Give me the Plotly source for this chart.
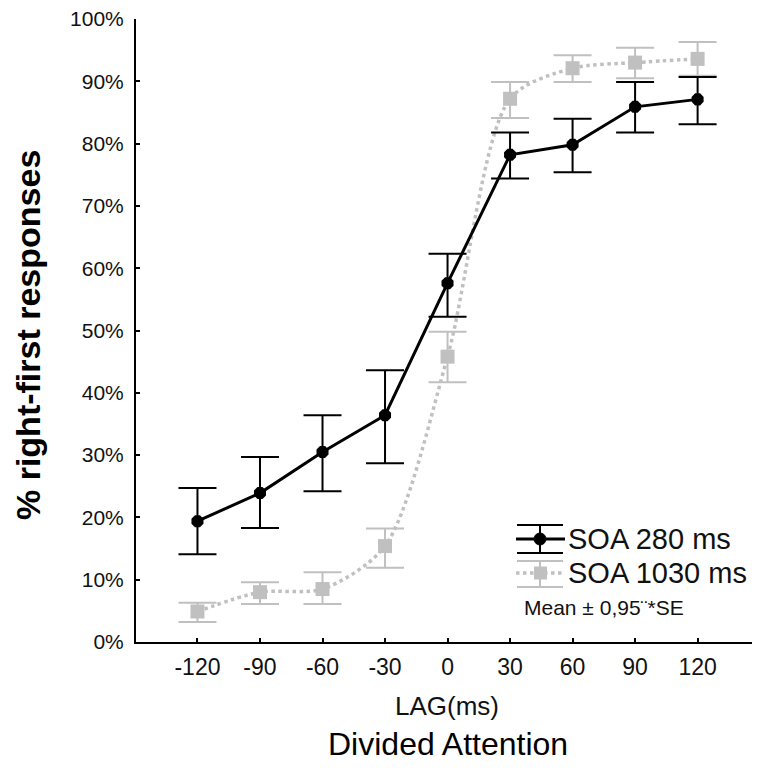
import plotly.graph_objects as go

lags = [-120, -90, -60, -30, 0, 30, 60, 90, 120]
soa280 = [19.4, 23.9, 30.5, 36.4, 57.6, 78.2, 79.8, 85.9, 87.1]
soa280_hi = [24.7, 29.7, 36.4, 43.6, 62.3, 81.8, 84.0, 89.9, 90.7]
soa280_lo = [14.1, 18.3, 24.2, 28.7, 52.2, 74.4, 75.4, 81.8, 83.1]
soa1030 = [4.9, 8.0, 8.5, 15.4, 45.8, 87.2, 92.1, 93.0, 93.6]
soa1030_hi = [6.3, 9.6, 11.2, 18.2, 49.8, 89.9, 94.2, 95.4, 96.3]
soa1030_lo = [3.2, 6.1, 6.1, 11.9, 41.7, 84.1, 89.9, 90.5, 90.9]
y_ticks = [0, 10, 20, 30, 40, 50, 60, 70, 80, 90, 100]

FONT = "Liberation Sans, Arial, sans-serif"
GRAY = "#c0c0c0"

# page offset of the figure (default body margin) and plot area in screen pixels
OFF = 8
FW, FH = 760 - OFF, 770 - OFF
L, R, T, B = 136, 757, 19, 642
W, H = R - L, B - T
def px(x):
    return (x - L) / W
def py(y):
    return (B - y) / H

def err(vals, hi, lo):
    return [h - v for v, h in zip(vals, hi)], [v - l for v, l in zip(vals, lo)]

p1, m1 = err(soa280, soa280_hi, soa280_lo)
p2, m2 = err(soa1030, soa1030_hi, soa1030_lo)

fig = go.Figure()
fig.add_trace(go.Scatter(
    x=lags, y=soa1030, name="SOA 1030 ms", mode="lines+markers",
    line=dict(color=GRAY, width=3.5, dash="dot", shape="spline", smoothing=0.8),
    marker=dict(symbol="square", size=14, color=GRAY),
    error_y=dict(type="data", array=p2, arrayminus=m2, color=GRAY, thickness=2, width=19),
    showlegend=False,
))
fig.add_trace(go.Scatter(
    x=lags, y=soa280, name="SOA 280 ms", mode="lines+markers",
    line=dict(color="black", width=3),
    marker=dict(symbol="octagon", size=13, color="black"),
    error_y=dict(type="data", array=p1, arrayminus=m1, color="black", thickness=2, width=19),
    showlegend=False,
))

fig.update_layout(
    width=FW, height=FH,
    margin=dict(l=L - OFF, r=FW - (R - OFF), t=T - OFF, b=FH - (B - OFF)),
    paper_bgcolor="white", plot_bgcolor="white",
    font=dict(family=FONT, color="black"),
    showlegend=False,
    xaxis=dict(
        range=[-149.5, 148.5], tickvals=lags, ticktext=[str(v) for v in lags],
        showgrid=False, zeroline=False, showline=True, linecolor="black", linewidth=2,
        ticks="inside", ticklen=4, tickcolor="black", tickwidth=1.5,
        tickfont=dict(size=23, family=FONT, color="#111"), automargin=False,
        ticklabelstandoff=3, ticklabeloverflow="allow",
    ),
    yaxis=dict(
        range=[0, 100], tickvals=y_ticks, ticktext=[f"{v}%" for v in y_ticks],
        showgrid=False, zeroline=False, showline=True, linecolor="black", linewidth=2,
        ticks="inside", ticklen=4, tickcolor="black", tickwidth=1.5,
        tickfont=dict(size=21, family=FONT, color="#111"), automargin=False,
        ticklabelstandoff=6, ticklabeloverflow="allow",
    ),
)

# axis titles
fig.add_annotation(xref="paper", yref="paper", x=px(28), y=py(335),
                   text="<b>% right-first responses</b>", textangle=-90, showarrow=False,
                   font=dict(size=34, family=FONT), xanchor="center", yanchor="middle")
fig.add_annotation(xref="paper", yref="paper", x=px(447), y=py(706),
                   text="LAG(ms)", showarrow=False, borderpad=0,
                   font=dict(size=26, family=FONT, color="#111"), xanchor="center", yanchor="middle")
fig.add_annotation(xref="paper", yref="paper", x=px(448), y=py(744),
                   text="Divided Attention", showarrow=False, borderpad=0,
                   font=dict(size=32, family=FONT), xanchor="center", yanchor="middle")

# custom legend (line + error bar + marker glyphs)
shapes = []
ly1 = 539
shapes += [
    dict(type="line", xref="paper", yref="paper", x0=px(516), x1=px(565), y0=py(ly1), y1=py(ly1),
         line=dict(color="black", width=3)),
    dict(type="line", xref="paper", yref="paper", x0=px(540), x1=px(540), y0=py(525), y1=py(553),
         line=dict(color="black", width=2)),
    dict(type="line", xref="paper", yref="paper", x0=px(517), x1=px(563), y0=py(525), y1=py(525),
         line=dict(color="black", width=2)),
    dict(type="line", xref="paper", yref="paper", x0=px(517), x1=px(563), y0=py(553), y1=py(553),
         line=dict(color="black", width=2)),
    dict(type="circle", xref="paper", yref="paper", x0=px(534), x1=px(546), y0=py(ly1 - 6), y1=py(ly1 + 6),
         fillcolor="black", line=dict(color="black", width=1)),
]
ly2 = 573
shapes += [
    dict(type="line", xref="paper", yref="paper", x0=px(516), x1=px(565), y0=py(ly2), y1=py(ly2),
         line=dict(color=GRAY, width=3.5, dash="dot")),
    dict(type="line", xref="paper", yref="paper", x0=px(540), x1=px(540), y0=py(561), y1=py(587),
         line=dict(color=GRAY, width=2)),
    dict(type="line", xref="paper", yref="paper", x0=px(517), x1=px(563), y0=py(561), y1=py(561),
         line=dict(color=GRAY, width=2)),
    dict(type="line", xref="paper", yref="paper", x0=px(517), x1=px(563), y0=py(587), y1=py(587),
         line=dict(color=GRAY, width=2)),
    dict(type="rect", xref="paper", yref="paper", x0=px(534), x1=px(547), y0=py(ly2 - 6.5), y1=py(ly2 + 6.5),
         fillcolor=GRAY, line=dict(color=GRAY, width=0)),
]
fig.update_layout(shapes=shapes)
fig.add_annotation(xref="paper", yref="paper", x=px(566), y=py(ly1), text="SOA 280 ms",
                   showarrow=False, xanchor="left", yanchor="middle",
                   font=dict(size=29, family=FONT, color="#111"))
fig.add_annotation(xref="paper", yref="paper", x=px(566), y=py(ly2), text="SOA 1030 ms",
                   showarrow=False, xanchor="left", yanchor="middle",
                   font=dict(size=29, family=FONT, color="#111"))
fig.add_annotation(xref="paper", yref="paper", x=px(522), y=py(607), text="Mean ± 0,95¨*SE",
                   showarrow=False, xanchor="left", yanchor="middle",
                   font=dict(size=21, family=FONT, color="#111"))

fig.write_html("out.html")
